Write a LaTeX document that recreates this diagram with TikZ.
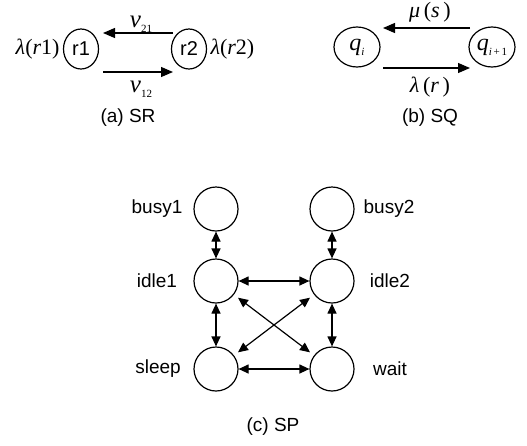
\documentclass[tikz,border=0pt]{standalone}
\usepackage{fontspec}
\setmainfont{Liberation Sans}
\newfontfamily\tms{Liberation Serif}
\usetikzlibrary{arrows.meta,shapes.geometric}

% italic / upright symbols in a Times-like face
\newcommand{\isym}[1]{{\tms\itshape #1}}
\newcommand{\lowsub}[1]{\raisebox{-0.45ex}{\fontsize{11}{11}\selectfont\tms #1}}

\begin{document}
\begin{tikzpicture}[x=1pt,y=-1pt,
  every node/.style={font=\fontsize{19}{22}\selectfont},
  state/.style={draw, ellipse, line width=1.2pt, inner sep=0pt},
  srnode/.style={state, minimum width=35pt, minimum height=40pt, font=\fontsize{20}{22}\selectfont},
  sqnode/.style={state, minimum width=46pt, minimum height=40pt},
  spnode/.style={state, circle, minimum size=44pt},
  flow/.style={line width=1.2pt, -{Triangle[length=12pt,width=10pt]}},
  both/.style={line width=1.2pt, {Triangle[length=10pt,width=9pt]}-{Triangle[length=10pt,width=9pt]}},
  mth/.style={font=\fontsize{22}{24}\selectfont\tms},
  bigmth/.style={font=\fontsize{25}{26}\selectfont\tms},
  subcaption/.style={font=\fontsize{19}{22}\selectfont}
]
\useasboundingbox (0,0) rectangle (527,445);

% ---------- (a) SR ----------
\node[srnode] (r1) at (81,49) {r1};
\node[srnode] (r2) at (189,49) {r2};
\node[mth, anchor=east] (lr1) at (63,49) {\isym{λ}(\isym{r}1)};
\node[mth, anchor=west] (lr2) at (207,49) {\isym{λ}(\isym{r}2)};
\coordinate (a1) at ([shift={(-16,-16)}]r2.center);
\coordinate (a2) at ([shift={(22,-16)}]r1.center);
\coordinate (a3) at ([shift={(22,23)}]r1.center);
\coordinate (a4) at ([shift={(-16,23)}]r2.center);
\draw[flow] (a1) -- (a2);
\draw[flow] (a3) -- (a4);
\node[bigmth, anchor=base] (nu21) at (141,27) {\isym{ν}\lowsub{21}};
\node[bigmth, anchor=base] (nu12) at (141,92) {\isym{ν}\lowsub{12}};
\node[subcaption] (capa) at (128,118) {(a) SR};

% ---------- (b) SQ ----------
\node[sqnode, font=\fontsize{24}{26}\selectfont\tms] (qi) at (357,47) {\isym{q}\lowsub{\itshape i}};
\node[sqnode, font=\fontsize{24}{26}\selectfont\tms] (qj) at (492,47) {\isym{q}\lowsub{\itshape i\,\upshape +\,1}};
\coordinate (b1) at ([shift={(-22,-19)}]qj.center);
\coordinate (b2) at ([shift={(26,-19)}]qi.center);
\coordinate (b3) at ([shift={(26,21)}]qi.center);
\coordinate (b4) at ([shift={(-22,21)}]qj.center);
\draw[flow] (b1) -- (b2);
\draw[flow] (b3) -- (b4);
\node[mth, anchor=base] (mus) at (430,17) {\isym{μ}\,(\isym{s}\,)};
\node[mth, anchor=base] (lamr) at (430,92) {\isym{λ}\,(\isym{r}\,)};
\node[subcaption] (capb) at (430,118) {(b) SQ};

% ---------- (c) SP ----------
\node[spnode] (busy1) at (216,209) {};
\node[spnode] (busy2) at (332,209) {};
\node[spnode] (idle1) at (216,281) {};
\node[spnode] (idle2) at (332,281) {};
\node[spnode] (sleep) at (216,369) {};
\node[spnode] (wait)  at (332,369) {};

\node (tb1) at (157,209) {busy1};
\node (tb2) at (389,209) {busy2};
\node (ti1) at (157,281) {idle1};
\node (ti2) at (390,281) {idle2};
\node (ts)  at (158,369) {sleep};
\node (tw)  at (390,369) {wait};

\draw[both] (busy1) -- (idle1);
\draw[both] (busy2) -- (idle2);
\draw[both] (idle1) -- (idle2);
\draw[both] (idle1) -- (sleep);
\draw[both] (idle2) -- (wait);
\draw[both] (sleep) -- (wait);
\draw[both, shorten <=5pt, shorten >=5pt] (idle1) -- (wait);
\draw[both, shorten <=5pt, shorten >=5pt] (idle2) -- (sleep);

\node[subcaption] (capc) at (273,427) {(c) SP};
\end{tikzpicture}
\end{document}
